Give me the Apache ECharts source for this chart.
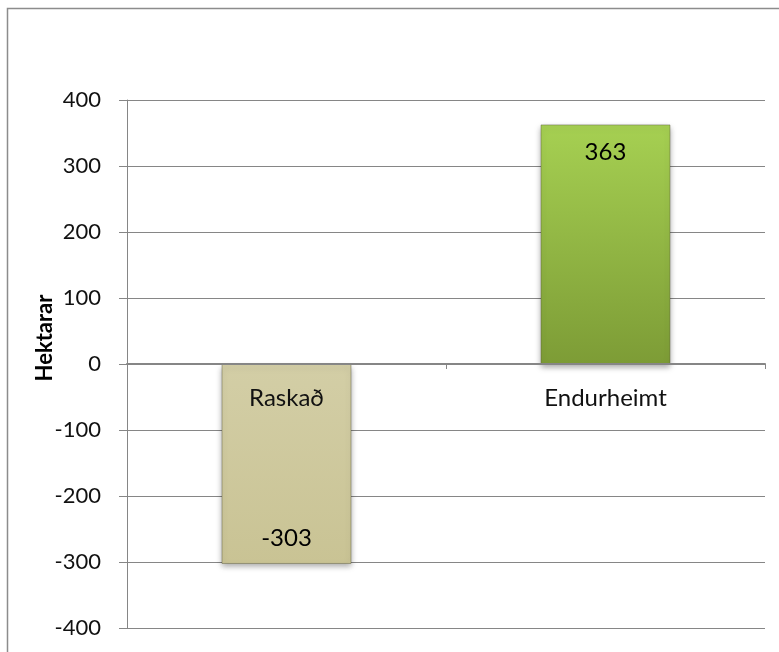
<!DOCTYPE html>
<html>
<head>
<meta charset="utf-8">
<script src="https://cdn.jsdelivr.net/npm/echarts@6/dist/echarts.min.js"></script>
<style>
  html, body { margin: 0; padding: 0; background: #fff; }
  #chart { width: 779px; height: 652px; }
</style>
</head>
<body>
<div id="chart"></div>
<script>
const categories = ['Raskað', 'Endurheimt']
const values = [-303, 363]
const yTicks = { min: -400, max: 400, interval: 100 }

const fillColors = [
  new echarts.graphic.LinearGradient(0, 0, 0, 1, [
    { offset: 0, color: '#d3cea6' },
    { offset: 1, color: '#c9c394' }
  ]),
  new echarts.graphic.LinearGradient(0, 0, 0, 1, [
    { offset: 0, color: '#a6d052' },
    { offset: 1, color: '#7d9c36' }
  ])
]

const myChart = echarts.init(document.getElementById('chart'))
const font = 'Lato, "Open Sans", sans-serif'

myChart.setOption({
  animation: false,
  grid: {
    left: 127,
    right: 14,
    top: 100,
    bottom: 24,
    containLabel: false,
    outerBoundsMode: 'none'
  },
  graphic: [
    {
      type: 'rect',
      shape: { x: 7.5, y: 8.5, width: 900, height: 800 },
      style: { fill: 'none', stroke: '#8c8c8c', lineWidth: 1.5 },
      silent: true
    },
    {
      type: 'text',
      x: 45,
      y: 338,
      rotation: Math.PI / 2,
      style: {
        text: 'Hektarar',
        fontFamily: font,
        fontWeight: 'bold',
        fontSize: 22,
        fill: '#000',
        align: 'center',
        verticalAlign: 'middle'
      }
    }
  ],
  xAxis: {
    type: 'category',
    data: categories,
    z: 3,
    // move the whole axis (line, ticks, labels) up to the zero line
    offset: -264,
    axisLine: { onZero: false, lineStyle: { color: '#868686', width: 2 } },
    axisTick: { show: true, length: 5, lineStyle: { color: '#868686' } },
    axisLabel: {
      margin: 22,
      fontFamily: font,
      fontSize: 24,
      color: '#111'
    },
    splitLine: { show: false }
  },
  yAxis: {
    type: 'value',
    min: yTicks.min,
    max: yTicks.max,
    interval: yTicks.interval,
    axisLine: { show: true, lineStyle: { color: '#868686' } },
    axisTick: { show: true, inside: false, length: 8, lineStyle: { color: '#868686' } },
    axisLabel: {
      margin: 26,
      fontFamily: font,
      fontSize: 22,
      color: '#111'
    },
    splitLine: { show: true, lineStyle: { color: '#868686', width: 1 } }
  },
  series: [{
    type: 'bar',
    barWidth: 130,
    data: values.map((v, i) => ({
      value: v,
      itemStyle: { color: fillColors[i] },
      label: {
        position: v < 0 ? 'insideBottom' : 'insideTop',
        distance: v < 0 ? 14 : 16
      }
    })),
    itemStyle: {
      borderColor: 'rgba(90,90,60,0.45)',
      borderWidth: 1,
      shadowColor: 'rgba(0,0,0,0.35)',
      shadowBlur: 6,
      shadowOffsetY: 3
    },
    label: {
      show: true,
      fontFamily: font,
      fontSize: 24,
      color: '#000'
    }
  }]
})
</script>
</body>
</html>
